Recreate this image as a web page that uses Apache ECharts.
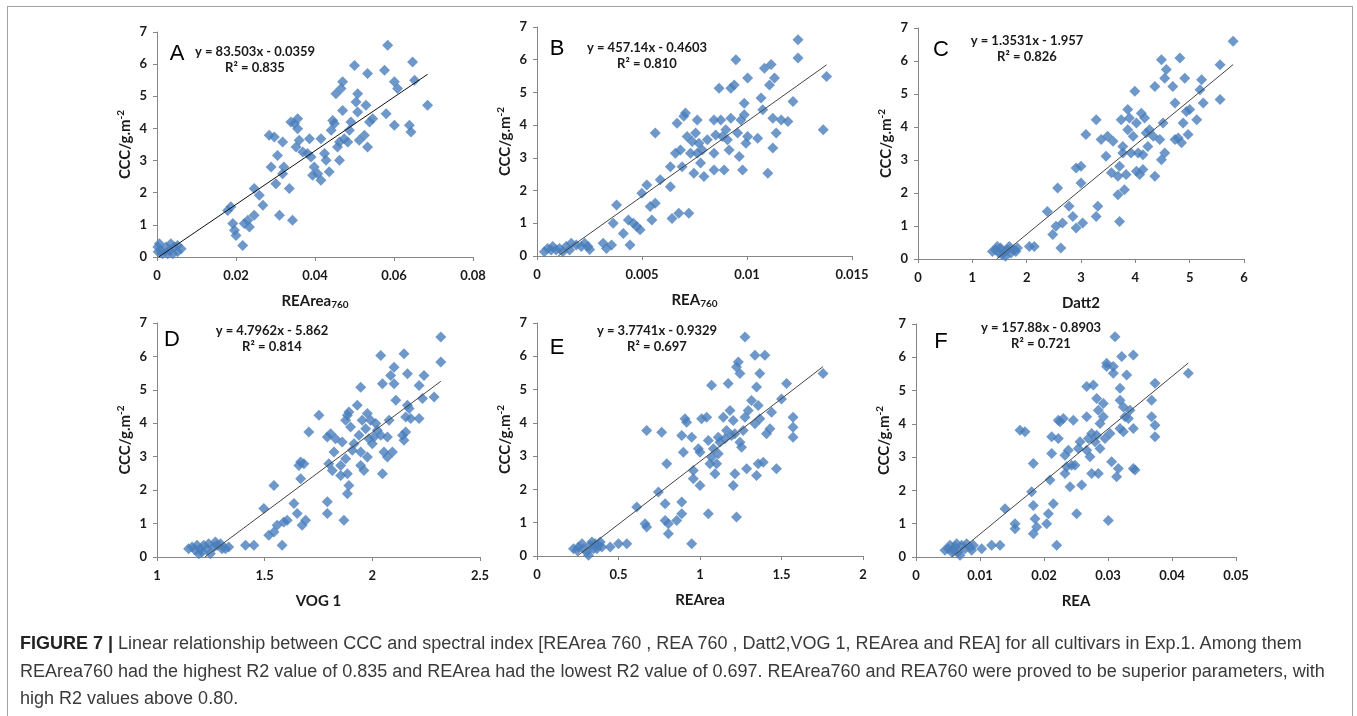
<!DOCTYPE html>
<html>
<head>
<meta charset="utf-8">
<script src="https://cdn.jsdelivr.net/npm/echarts@6/dist/echarts.min.js"></script>
<style>
  body { margin: 0; background: #fff; }
  #wrap { position: relative; width: 1357px; height: 716px; overflow: hidden; }
  #frame { position: absolute; left: 7px; top: 6px; width: 1346px; height: 730px; border: 1px solid #a3a3a3; box-sizing: border-box; }
  #chart { position: absolute; left: 0; top: 0; width: 1357px; height: 716px; }
  #caption { position: absolute; left: 20px; top: 630px; font: 18px "Liberation Sans", Arial, sans-serif; line-height: 27.5px; color: #3a3a3a; white-space: nowrap; }
  #caption b { color: #222; }
</style>
</head>
<body>
<div id="wrap">
  <div id="frame"></div>
  <div id="chart"></div>
  <div id="caption">
    <b>FIGURE 7 |</b> Linear relationship between CCC and spectral index [REArea 760 , REA 760 , Datt2,VOG 1, REArea and REA] for all cultivars in Exp.1. Among them<br>
    REArea760 had the highest R2 value of 0.835 and REArea had the lowest R2 value of 0.697. REArea760 and REA760 were proved to be superior parameters, with<br>
    high R2 values above 0.80.
  </div>
</div>
<script>
// panel A: REArea760 vs CCC
const reArea760 = [0.0002, 0.001, 0.0006, 0.0014, 0.0023, 0.0031, 0.0035, 0.0044, 0.0052, 0.004, 0.0027, 0.0061, 0.0052, 0.0003,
  0.0179, 0.0187, 0.0192, 0.0196, 0.0200, 0.0217, 0.0221, 0.0230, 0.0234, 0.0246, 0.0246, 0.0259, 0.0268, 0.0284, 0.0289, 0.0297,
  0.0301, 0.0305, 0.0310, 0.0318, 0.0321, 0.0318, 0.0335, 0.0343, 0.0339, 0.0348, 0.0356, 0.0352, 0.0360, 0.0356, 0.0369, 0.0381,
  0.0386, 0.0390, 0.0398, 0.0394, 0.0407, 0.0415, 0.0415, 0.0424, 0.0428, 0.0436, 0.0441, 0.0445, 0.0449, 0.0453, 0.0457, 0.0462,
  0.0462, 0.0466, 0.0470, 0.0470, 0.0474, 0.0483, 0.0487, 0.0491, 0.0500, 0.0504, 0.0508, 0.0508, 0.0512, 0.0525, 0.0529, 0.0533,
  0.0533, 0.0538, 0.0546, 0.0576, 0.0580, 0.0584, 0.0601, 0.0601, 0.0609, 0.0639, 0.0643, 0.0647, 0.0652, 0.0685];
const cccA = [0.31, 0.21, 0.41, 0.10, 0.31, 0.21, 0.41, 0.31, 0.16, 0.10, 0.10, 0.26, 0.36, 0.16,
  1.45, 1.56, 1.04, 0.83, 0.67, 0.36, 1.04, 1.14, 0.93, 1.30, 2.13, 1.92, 1.61, 3.79, 2.80, 3.73,
  2.28, 3.16, 1.30, 3.58, 2.80, 2.59, 2.13, 1.14, 4.20, 4.15, 4.30, 3.42, 3.63, 3.99, 3.27, 3.22,
  3.68, 3.11, 2.80, 2.54, 2.59, 2.39, 3.68, 3.22, 3.01, 2.65, 3.94, 4.25, 4.15, 5.08, 3.42, 3.58,
  3.01, 5.24, 5.45, 4.56, 3.68, 3.58, 3.94, 4.20, 5.96, 4.82, 5.08, 4.51, 3.63, 3.79, 4.72, 3.42,
  5.71, 4.20, 4.30, 5.81, 4.46, 6.59, 4.10, 5.45, 5.24, 4.10, 3.89, 6.07, 5.50, 4.72];

// panel B: REA760 vs CCC
const rea760 = [0.00035, 0.00051, 0.00067, 0.00075, 0.00091, 0.00107, 0.00123, 0.00139, 0.00155, 0.00163, 0.00187, 0.00211, 0.00227, 0.00243, 0.00251,
  0.00315, 0.00331, 0.00355, 0.00363, 0.00379, 0.00411, 0.00435, 0.00443, 0.00459, 0.00475, 0.00491, 0.00499, 0.00523, 0.00539, 0.00547,
  0.00563, 0.00563, 0.00587, 0.00635, 0.00635, 0.00643, 0.00659, 0.00667, 0.00675, 0.00683, 0.00691, 0.00699, 0.00707, 0.00715, 0.00723,
  0.00731, 0.00739, 0.00747, 0.00755, 0.00763, 0.00763, 0.00771, 0.00779, 0.00787, 0.00795, 0.00811, 0.00843, 0.00843, 0.00851, 0.00843,
  0.00867, 0.00875, 0.00883, 0.00891, 0.00899, 0.00907, 0.00915, 0.00923, 0.00923, 0.00939, 0.00947, 0.00955, 0.00963, 0.00971, 0.00979,
  0.00987, 0.00987, 0.00995, 0.01003, 0.01003, 0.01051, 0.01067, 0.01075, 0.01083, 0.01099, 0.01107, 0.01115, 0.01123, 0.01123, 0.01131,
  0.01139, 0.01163, 0.01195, 0.01219, 0.01243, 0.01243, 0.01363, 0.01379];
const cccB = [0.13, 0.23, 0.18, 0.29, 0.18, 0.23, 0.13, 0.29, 0.18, 0.39, 0.34, 0.29, 0.39, 0.29, 0.20,
  0.39, 0.23, 0.34, 1.00, 1.56, 0.69, 1.10, 0.34, 1.00, 0.90, 0.80, 1.92, 2.17, 1.51, 1.10,
  1.61, 3.76, 2.33, 2.12, 2.73, 1.15, 3.14, 4.06, 1.31, 3.24, 2.73, 4.27, 4.37, 3.65, 1.31,
  3.14, 3.50, 2.53, 3.76, 4.16, 3.14, 3.45, 2.84, 3.24, 2.43, 3.55, 4.16, 3.14, 3.70, 2.63,
  5.13, 4.16, 3.65, 2.63, 3.86, 3.55, 3.24, 4.21, 5.13, 5.23, 6.00, 3.76, 3.04, 4.16, 2.63,
  4.32, 4.67, 3.45, 3.65, 5.44, 3.60, 4.83, 4.47, 5.74, 2.53, 5.23, 5.85, 4.21, 3.30, 5.44,
  3.76, 4.16, 4.11, 4.72, 6.61, 6.05, 3.86, 5.49];

// panel C: Datt2 vs CCC
const datt2 = [1.37, 1.43, 1.49, 1.52, 1.58, 1.61, 1.65, 1.68, 1.71, 1.77, 1.80, 1.83, 1.46, 1.55,
  2.05, 2.14, 2.38, 2.48, 2.54, 2.57, 2.66, 2.63, 2.78, 2.85, 2.91, 2.91, 3.00, 3.00, 3.03, 3.09,
  3.28, 3.31, 3.28, 3.37, 3.46, 3.49, 3.56, 3.59, 3.68, 3.68, 3.71, 3.71, 3.74, 3.77, 3.77, 3.80,
  3.83, 3.86, 3.86, 3.89, 3.92, 3.96, 3.99, 4.02, 4.02, 4.05, 4.08, 4.11, 4.14, 4.14, 4.17, 4.20,
  4.23, 4.26, 4.33, 4.36, 4.36, 4.45, 4.48, 4.48, 4.51, 4.54, 4.54, 4.57, 4.69, 4.73, 4.73, 4.79,
  4.82, 4.85, 4.88, 4.91, 4.94, 4.97, 5.00, 5.13, 5.19, 5.22, 5.25, 5.56, 5.56, 5.80];
const cccC = [0.23, 0.28, 0.18, 0.33, 0.23, 0.08, 0.28, 0.38, 0.18, 0.28, 0.23, 0.33, 0.38, 0.13,
  0.38, 0.38, 1.44, 0.74, 0.99, 2.15, 1.09, 0.33, 1.60, 1.29, 0.94, 2.76, 2.81, 2.30, 1.09, 3.77,
  1.29, 1.60, 4.22, 3.62, 3.11, 3.72, 2.61, 3.57, 2.51, 1.95, 1.14, 2.81, 4.22, 3.21, 3.41, 2.10,
  2.56, 3.92, 4.53, 4.27, 3.21, 3.72, 5.08, 4.12, 2.66, 3.21, 2.56, 4.42, 3.16, 2.71, 4.27, 3.82,
  3.41, 3.92, 3.72, 2.51, 5.23, 3.62, 6.04, 3.01, 4.12, 3.21, 5.48, 5.74, 5.23, 3.62, 4.73, 3.67,
  6.09, 3.52, 4.12, 5.48, 4.47, 3.77, 4.53, 4.22, 5.13, 5.43, 4.73, 4.83, 5.89, 6.60];

// panel D: VOG 1 vs CCC
const vog1 = [1.147, 1.163, 1.178, 1.186, 1.202, 1.209, 1.217, 1.233, 1.240, 1.248, 1.264, 1.271, 1.279, 1.295, 1.302, 1.318, 1.333, 1.194,
  1.411, 1.450, 1.496, 1.519, 1.543, 1.543, 1.558, 1.581, 1.589, 1.605, 1.636, 1.651, 1.659, 1.667, 1.667, 1.674, 1.682, 1.690,
  1.705, 1.752, 1.791, 1.791, 1.791, 1.798, 1.806, 1.814, 1.822, 1.829, 1.853, 1.853, 1.860, 1.868, 1.876, 1.876, 1.884, 1.884,
  1.884, 1.891, 1.891, 1.899, 1.907, 1.915, 1.930, 1.938, 1.946, 1.946, 1.946, 1.953, 1.961, 1.969, 1.977, 1.977, 1.984, 1.992,
  2.000, 2.008, 2.016, 2.023, 2.039, 2.039, 2.047, 2.047, 2.054, 2.070, 2.070, 2.078, 2.085, 2.093, 2.101, 2.101, 2.109, 2.140,
  2.147, 2.147, 2.155, 2.155, 2.163, 2.163, 2.171, 2.178, 2.217, 2.217, 2.233, 2.240, 2.287, 2.318, 2.318];
const cccD = [0.25, 0.30, 0.20, 0.35, 0.25, 0.15, 0.35, 0.25, 0.40, 0.10, 0.30, 0.45, 0.35, 0.40, 0.25, 0.25, 0.30, 0.10,
  0.35, 0.35, 1.45, 0.65, 2.14, 0.75, 0.95, 0.35, 1.05, 1.10, 1.60, 1.30, 2.74, 2.84, 2.34, 0.95, 2.79, 1.10,
  3.74, 4.24, 1.30, 1.65, 3.59, 2.79, 3.69, 2.59, 3.14, 3.54, 2.74, 2.44, 3.44, 1.10, 2.94, 4.09, 4.24, 2.49,
  1.89, 2.14, 4.34, 3.89, 3.19, 3.39, 4.54, 3.64, 5.08, 3.14, 2.74, 4.09, 2.59, 3.84, 4.29, 2.99, 3.54, 4.09,
  3.39, 3.59, 3.99, 3.79, 6.03, 3.64, 2.49, 5.18, 3.14, 2.99, 3.59, 4.09, 5.43, 3.14, 5.18, 5.68, 4.69, 3.64,
  6.08, 3.49, 3.74, 4.19, 5.48, 4.54, 4.44, 4.14, 5.13, 4.14, 4.74, 5.43, 4.79, 6.58, 5.83];

// panel E: REArea vs CCC
const reArea = [0.224, 0.245, 0.255, 0.276, 0.286, 0.306, 0.316, 0.327, 0.347, 0.357, 0.367, 0.378, 0.388, 0.398, 0.337,
  0.449, 0.500, 0.551, 0.612, 0.663, 0.673, 0.673, 0.745, 0.765, 0.786, 0.786, 0.796, 0.806, 0.806, 0.857, 0.888, 0.888,
  0.888, 0.898, 0.908, 0.918, 0.949, 0.949, 0.959, 0.959, 0.990, 1.000, 1.000, 1.010, 1.041, 1.051, 1.051, 1.061, 1.071,
  1.071, 1.082, 1.092, 1.102, 1.112, 1.112, 1.122, 1.143, 1.153, 1.163, 1.173, 1.184, 1.194, 1.204, 1.204, 1.214, 1.214,
  1.224, 1.224, 1.235, 1.245, 1.245, 1.255, 1.265, 1.276, 1.276, 1.286, 1.296, 1.316, 1.337, 1.337, 1.347, 1.347, 1.357,
  1.357, 1.367, 1.367, 1.388, 1.398, 1.408, 1.429, 1.439, 1.469, 1.500, 1.531, 1.571, 1.571, 1.571, 1.755];
const cccE = [0.22, 0.17, 0.27, 0.37, 0.22, 0.12, 0.02, 0.32, 0.22, 0.37, 0.22, 0.32, 0.42, 0.27, 0.42,
  0.27, 0.37, 0.37, 1.47, 0.97, 0.87, 3.77, 1.92, 3.72, 1.57, 1.07, 2.77, 0.97, 0.67, 1.07, 3.62, 1.62,
  1.27, 3.12, 4.12, 4.02, 3.57, 0.37, 2.57, 2.32, 3.22, 3.12, 2.12, 4.12, 4.17, 1.27, 3.47, 2.77, 5.13,
  2.97, 3.22, 2.47, 2.77, 3.57, 3.07, 3.42, 4.17, 3.52, 3.77, 5.18, 4.37, 3.62, 2.12, 4.07, 2.47, 3.67,
  1.17, 5.68, 5.83, 5.48, 3.42, 3.27, 3.77, 6.58, 4.17, 2.62, 4.37, 4.67, 6.03, 3.97, 2.42, 5.08, 2.77,
  4.52, 5.48, 4.12, 2.82, 6.03, 3.67, 3.82, 4.32, 2.62, 4.72, 5.18, 4.17, 3.87, 3.57, 5.48];

// panel F: REA vs CCC
const rea = [0.00453, 0.00505, 0.00531, 0.00583, 0.00609, 0.00661, 0.00688, 0.00714, 0.00766, 0.00792, 0.00844, 0.00870, 0.00896, 0.00635, 0.00557,
  0.01026, 0.01182, 0.01313, 0.01391, 0.01547, 0.01547, 0.01625, 0.01703, 0.01807, 0.01833, 0.01833, 0.01833, 0.01859, 0.01885, 0.02042,
  0.02068, 0.02094, 0.02120, 0.02120, 0.02146, 0.02198, 0.02224, 0.02224, 0.02250, 0.02302, 0.02328, 0.02328, 0.02354, 0.02380, 0.02406,
  0.02432, 0.02458, 0.02484, 0.02510, 0.02536, 0.02563, 0.02589, 0.02667, 0.02667, 0.02667, 0.02693, 0.02719, 0.02745, 0.02745, 0.02771,
  0.02797, 0.02823, 0.02823, 0.02849, 0.02849, 0.02875, 0.02875, 0.02927, 0.02927, 0.02953, 0.02979, 0.02979, 0.03005, 0.03031, 0.03057,
  0.03083, 0.03083, 0.03109, 0.03135, 0.03161, 0.03188, 0.03188, 0.03188, 0.03214, 0.03240, 0.03240, 0.03266, 0.03292, 0.03318, 0.03344,
  0.03396, 0.03396, 0.03396, 0.03422, 0.03682, 0.03682, 0.03734, 0.03734, 0.03734, 0.04255];
const cccF = [0.20, 0.25, 0.35, 0.20, 0.30, 0.15, 0.05, 0.35, 0.25, 0.40, 0.30, 0.20, 0.35, 0.40, 0.15,
  0.25, 0.35, 0.35, 1.45, 1.00, 0.85, 3.81, 3.76, 1.96, 2.81, 1.55, 0.70, 1.15, 0.90, 1.00,
  1.30, 2.31, 3.11, 3.61, 1.60, 0.35, 3.56, 4.11, 4.06, 4.16, 3.06, 2.51, 2.71, 3.21, 2.11,
  2.76, 4.11, 2.76, 1.30, 3.26, 3.46, 2.16, 4.21, 5.12, 3.21, 3.56, 3.01, 2.51, 3.71, 5.17,
  3.46, 4.76, 3.66, 2.51, 4.41, 4.01, 3.26, 4.61, 4.21, 3.56, 5.82, 5.72, 1.10, 3.71, 2.86,
  5.72, 5.52, 6.62, 2.41, 2.66, 5.07, 3.86, 4.71, 6.02, 4.51, 3.76, 4.21, 5.47, 4.16, 4.41,
  6.07, 2.66, 3.86, 2.61, 4.71, 4.21, 3.61, 3.96, 5.22, 5.52];

// fitted trend lines (Excel linear trendline)
const slopes = [83.503, 457.14, 1.3531, 4.7962, 3.7741, 157.88];
const intercepts = [-0.0359, -0.4603, -1.957, -5.862, -0.9329, -0.8903];
const equations = ['y = 83.503x - 0.0359', 'y = 457.14x - 0.4603', 'y = 1.3531x - 1.957',
  'y = 4.7962x - 5.862', 'y = 3.7741x - 0.9329', 'y = 157.88x - 0.8903'];
const r2 = ['0.835', '0.810', '0.826', '0.814', '0.697', '0.721'];
const letters = ['A', 'B', 'C', 'D', 'E', 'F'];
const xNames = ['{a|REArea}{s|760}', '{a|REA}{s|760}', '{a|Datt2}', '{a|VOG 1}', '{a|REArea}', '{a|REA}'];

// axis ranges
const xMin = [0, 0, 0, 1, 0, 0];
const xMax = [0.08, 0.015, 6, 2.5, 2, 0.05];
const xStep = [0.02, 0.005, 1, 0.5, 0.5, 0.01];

const panelX = [reArea760, rea760, datt2, vog1, reArea, rea];
const panelY = [cccA, cccB, cccC, cccD, cccE, cccF];

// layout (px)
const grids = [
  { left: 157, top: 32, width: 316, height: 225 },
  { left: 537, top: 27, width: 315, height: 229 },
  { left: 918, top: 28, width: 326, height: 231 },
  { left: 157, top: 323, width: 323, height: 234 },
  { left: 537, top: 323, width: 326, height: 233 },
  { left: 916, top: 324, width: 320, height: 233 }
];
const letterPos = [[177, 54], [557, 49], [941, 50], [172, 340], [557, 348], [941, 342]];
const eqPos = [[255, 52], [647, 48], [1027, 41], [272, 331], [657, 331], [1041, 328]];

const font = 'Lato, "Open Sans", sans-serif';
const axisGray = '#868686';

const chart = echarts.init(document.getElementById('chart'));

const option = {
  animation: false,
  grid: grids,
  xAxis: grids.map((g, i) => ({
    gridIndex: i, type: 'value', min: xMin[i], max: xMax[i], interval: xStep[i],
    name: xNames[i], nameLocation: 'middle', nameGap: 35,
    nameTextStyle: { rich: {
      a: { fontFamily: font, fontWeight: 'bold', fontSize: 15, color: '#1a1a1a', lineHeight: 18 },
      s: { fontFamily: font, fontWeight: 'bold', fontSize: 10, color: '#1a1a1a', lineHeight: 10, verticalAlign: 'bottom' }
    } },
    axisLine: { show: true, onZero: false, lineStyle: { color: axisGray } },
    axisTick: { show: true, length: 4, lineStyle: { color: axisGray } },
    axisLabel: { margin: 12, fontFamily: font, fontWeight: 'bold', fontSize: 13, color: '#1a1a1a' },
    splitLine: { show: false }
  })),
  yAxis: grids.map((g, i) => ({
    gridIndex: i, type: 'value', min: 0, max: 7, interval: 1,
    name: '{a|CCC/g.m}{s|-2}', nameLocation: 'middle', nameGap: 23, nameRotate: 90,
    nameTextStyle: { rich: {
      a: { fontFamily: font, fontWeight: 'bold', fontSize: 15, color: '#1a1a1a', lineHeight: 18 },
      s: { fontFamily: font, fontWeight: 'bold', fontSize: 10, color: '#1a1a1a', lineHeight: 10, verticalAlign: 'top' }
    } },
    axisLine: { show: true, onZero: false, lineStyle: { color: axisGray } },
    axisTick: { show: true, length: 4, lineStyle: { color: axisGray } },
    axisLabel: { margin: 10, fontFamily: font, fontWeight: 'bold', fontSize: 13, color: '#1a1a1a' },
    splitLine: { show: false }
  })),
  series: [],
  graphic: []
};

panelX.forEach((xs, i) => {
  option.series.push({
    type: 'scatter', xAxisIndex: i, yAxisIndex: i,
    symbol: 'diamond', symbolSize: 11,
    itemStyle: { color: '#4a7ebb' },
    data: xs.map((x, k) => [x, panelY[i][k]])
  });
  // trendline spans the data, clipped where it drops below 0
  const lo = Math.max(Math.min(...xs), -intercepts[i] / slopes[i]);
  const hi = Math.max(...xs);
  option.series.push({
    type: 'line', xAxisIndex: i, yAxisIndex: i, symbol: 'none', silent: true,
    lineStyle: { color: i === 0 ? '#111' : '#444', width: 1 },
    data: [[lo, slopes[i] * lo + intercepts[i]], [hi, slopes[i] * hi + intercepts[i]]],
    z: 3
  });
  option.graphic.push({
    type: 'text', x: letterPos[i][0], y: letterPos[i][1],
    style: { text: letters[i], font: '22px "Liberation Sans", Arial, sans-serif', fill: '#000', align: 'center', verticalAlign: 'middle' }
  });
  option.graphic.push({
    type: 'text', x: eqPos[i][0], y: eqPos[i][1] - 8,
    style: { text: equations[i] + '\nR² = ' + r2[i], font: 'bold 13px ' + font, lineHeight: 16, fill: '#1a1a1a', align: 'center', verticalAlign: 'top' }
  });
});

chart.setOption(option);
window.addEventListener('resize', () => chart.resize());
</script>
</body>
</html>
